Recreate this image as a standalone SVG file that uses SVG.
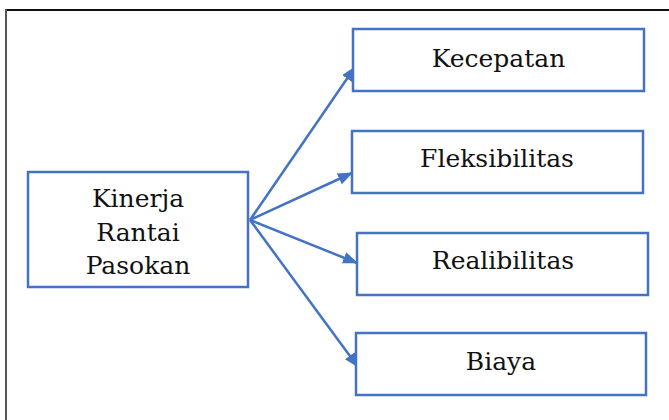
<svg xmlns="http://www.w3.org/2000/svg" width="669" height="420" viewBox="0 0 669 420">
  <style>
    .box { fill: #ffffff; stroke: #4472C4; stroke-width: 2.5; }
    .lbl { font-family: "DejaVu Serif", "Liberation Serif", serif; font-size: 25px; fill: #111111; text-anchor: middle; }
    .conn { stroke: #4472C4; stroke-width: 2.5; fill: none; marker-end: url(#arrow); }
  </style>
  <defs>
    <marker id="arrow" viewBox="0 0 15 12" refX="14" refY="6" markerWidth="15" markerHeight="12" orient="auto" markerUnits="userSpaceOnUse">
      <path d="M0,0 L15,6 L0,12 z" fill="#4472C4"/>
    </marker>
  </defs>

  <rect width="669" height="420" fill="#ffffff"/>

  <!-- outer frame -->
  <g id="frame">
    <line x1="6" y1="10" x2="680" y2="10" stroke="#111111" stroke-width="2"/>
    <line x1="6" y1="9" x2="6" y2="430" stroke="#555555" stroke-width="2"/>
  </g>

  <!-- connectors -->
  <g id="connectors">
    <line class="conn" x1="250" y1="220" x2="355" y2="67"/>
    <line class="conn" x1="250" y1="220" x2="352" y2="173"/>
    <line class="conn" x1="250" y1="220" x2="357" y2="263"/>
    <line class="conn" x1="250" y1="220" x2="358" y2="367"/>
  </g>

  <g id="kinerja">
    <rect class="box" x="28" y="172" width="220" height="115"/>
    <text class="lbl" x="138" y="207">Kinerja</text>
    <text class="lbl" x="138" y="240.5">Rantai</text>
    <text class="lbl" x="138" y="274">Pasokan</text>
  </g>

  <g id="kecepatan">
    <rect class="box" x="353" y="29" width="291" height="62"/>
    <text class="lbl" x="498.5" y="66.5">Kecepatan</text>
  </g>

  <g id="fleksibilitas">
    <rect class="box" x="352" y="131" width="291" height="62"/>
    <text class="lbl" x="497" y="166.5">Fleksibilitas</text>
  </g>

  <g id="realibilitas">
    <rect class="box" x="357" y="233" width="291" height="62"/>
    <text class="lbl" x="503" y="269">Realibilitas</text>
  </g>

  <g id="biaya">
    <rect class="box" x="356" y="333" width="290" height="62"/>
    <text class="lbl" x="501" y="370">Biaya</text>
  </g>
</svg>
